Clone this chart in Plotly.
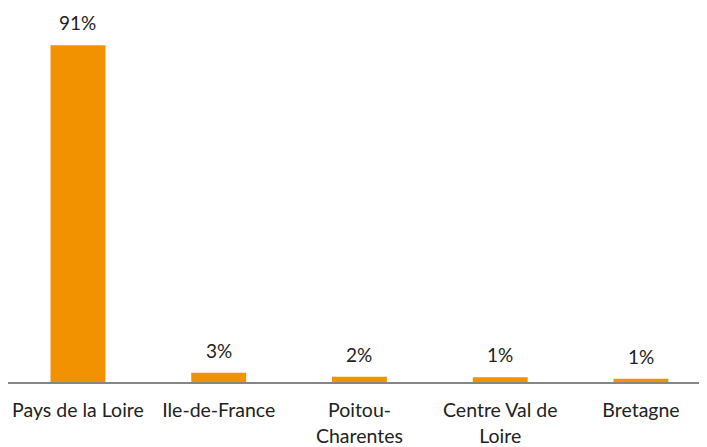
import plotly.graph_objects as go

regions = ["Pays de la Loire", "Ile-de-France", "Poitou-<br>Charentes",
           "Centre Val de<br>Loire", "Bretagne"]
shares = [91, 2.5, 1.4, 1.3, 0.9]
share_labels = ["91%", "3%", "2%", "1%", "1%"]

orange = "#F39200"
font_name = "Lato"

fig = go.Figure()
fig.add_trace(go.Bar(x=regions, y=shares, marker_color=orange,
                     marker_line_width=0, hoverinfo="skip"))

for r, v, t in zip(regions, shares, share_labels):
    fig.add_annotation(x=r, y=v, text=t, showarrow=False, yanchor="bottom",
                       yshift=9, font=dict(family=font_name, size=19, color="#222"))

# page body adds an 8px margin, so the figure is a bit smaller than the window
fig.update_layout(
    width=699, height=439,
    margin=dict(l=0, r=0, t=4, b=65),
    plot_bgcolor="white", paper_bgcolor="white",
    bargap=0.61, showlegend=False,
    font=dict(family=font_name, size=19, color="#222"),
)
fig.update_xaxes(showline=True, linecolor="#868686", linewidth=2,
                 range=[-0.497, 4.469], automargin=False,
                 ticks="outside", ticklen=10, tickcolor="rgba(0,0,0,0)",
                 tickfont=dict(size=19.5))
fig.update_yaxes(visible=False, range=[0, 100])

fig.write_html("out.html")
